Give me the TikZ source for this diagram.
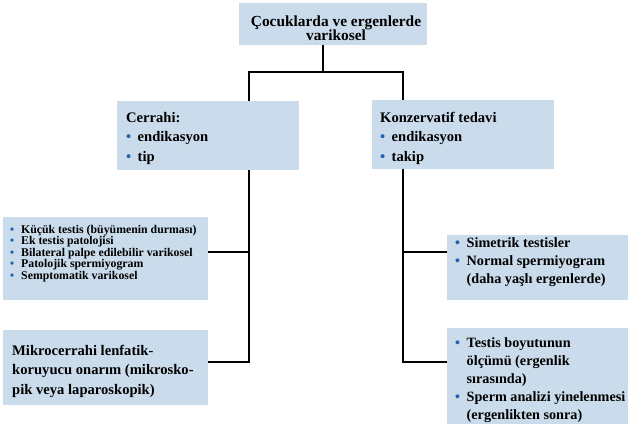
\documentclass[tikz,border=0pt]{standalone}
\usepackage{fontspec}
\setmainfont{Liberation Serif}
\definecolor{boxblue}{HTML}{CADCEB}
\definecolor{dotblue}{HTML}{1F63AE}
\newcommand{\bul}{\makebox[11.5pt][l]{\textcolor{dotblue}{\textbullet}}}
\newcommand{\ind}{\hspace*{11.5pt}}
\newcommand{\sbul}{\makebox[11pt][l]{\textcolor{dotblue}{\textbullet}}}
\newcommand{\Lft}[1]{\vtop{\halign{##\hfil\cr #1\crcr}}}
\newcommand{\Ctr}[1]{\vtop{\halign{\hfil##\hfil\cr #1\crcr}}}
\begin{document}
\begin{tikzpicture}[x=1pt,y=-1pt,
  box/.style={fill=boxblue, draw=none, anchor=north west, inner sep=0pt},
  txt/.style={anchor=base west, inner sep=0pt, font=\fontsize{14.6}{19.5}\selectfont\bfseries},
  rtxt/.style={txt, font=\fontsize{14.2}{18.2}\selectfont\bfseries},
  conn/.style={draw=black, line width=2.4pt}]
\useasboundingbox (0,0) rectangle (629,424);
% boxes
\node[box, minimum width=188pt, minimum height=42pt] (top) at (239,3) {};
\node[box, minimum width=182pt, minimum height=69pt] (cer) at (117,101) {};
\node[box, minimum width=182pt, minimum height=69pt] (kon) at (372,100) {};
\node[box, minimum width=205pt, minimum height=83pt] (list) at (3,217) {};
\node[box, minimum width=205pt, minimum height=75pt] (mik) at (3,330) {};
\node[box, minimum width=181pt, minimum height=65pt] (sim) at (447,235) {};
\node[box, minimum width=181pt, minimum height=96pt] (tes) at (447,328) {};
% texts
\node[anchor=base, inner sep=0pt, font=\fontsize{15.4}{14.6}\selectfont\bfseries] (top-t) at (336,26)
  {\Ctr{Çocuklarda ve ergenlerde\cr varikosel}};
\node[txt] (cer-t) at (126,122) {\Lft{Cerrahi:\cr \bul endikasyon\cr \bul tip}};
\node[txt] (kon-t) at (380,122) {\Lft{Konzervatif tedavi\cr \bul endikasyon\cr \bul takip}};
\node[txt, font=\fontsize{11.8}{11.6}\selectfont\bfseries] (list-t) at (10,233)
  {\Lft{\sbul Küçük testis (büyümenin durması)\cr \sbul Ek testis patolojisi\cr \sbul Bilateral palpe edilebilir varikosel\cr \sbul Patolojik spermiyogram\cr \sbul Semptomatik varikosel}};
\node[txt] (mik-t) at (12,355) {\Lft{Mikrocerrahi lenfatik-\cr koruyucu onarım (mikrosko-\cr pik veya laparoskopik)}};
\node[rtxt] (sim-t) at (455,247) {\Lft{\bul Simetrik testisler\cr \bul Normal spermiyogram\cr \ind(daha yaşlı ergenlerde)}};
\node[rtxt] (tes-t) at (455,347) {\Lft{\bul Testis boyutunun\cr \ind ölçümü (ergenlik\cr \ind sırasında)\cr \bul Sperm analizi yinelenmesi\cr \ind(ergenlikten sonra)}};
% connectors
\coordinate (jt) at (323,72);
\coordinate (jl) at (249,72);
\coordinate (jr) at (403,72);
\coordinate (l1) at (249,252);
\coordinate (l2) at (249,362);
\coordinate (r1) at (403,252);
\coordinate (r2) at (403,362);
\draw[conn] (top.south -| jt) -- (jt);
\draw[conn, line cap=rect] (jl) -- (jr);
\draw[conn] (jl) -- (cer.north -| jl);
\draw[conn] (jr) -- (kon.north -| jr);
\draw[conn] (cer.south -| l1) -- (l2) -- (mik.east |- l2);
\draw[conn] (l1) -- (list.east |- l1);
\draw[conn] (kon.south -| r1) -- (r2) -- (tes.west |- r2);
\draw[conn] (r1) -- (sim.west |- r1);
\end{tikzpicture}
\end{document}
